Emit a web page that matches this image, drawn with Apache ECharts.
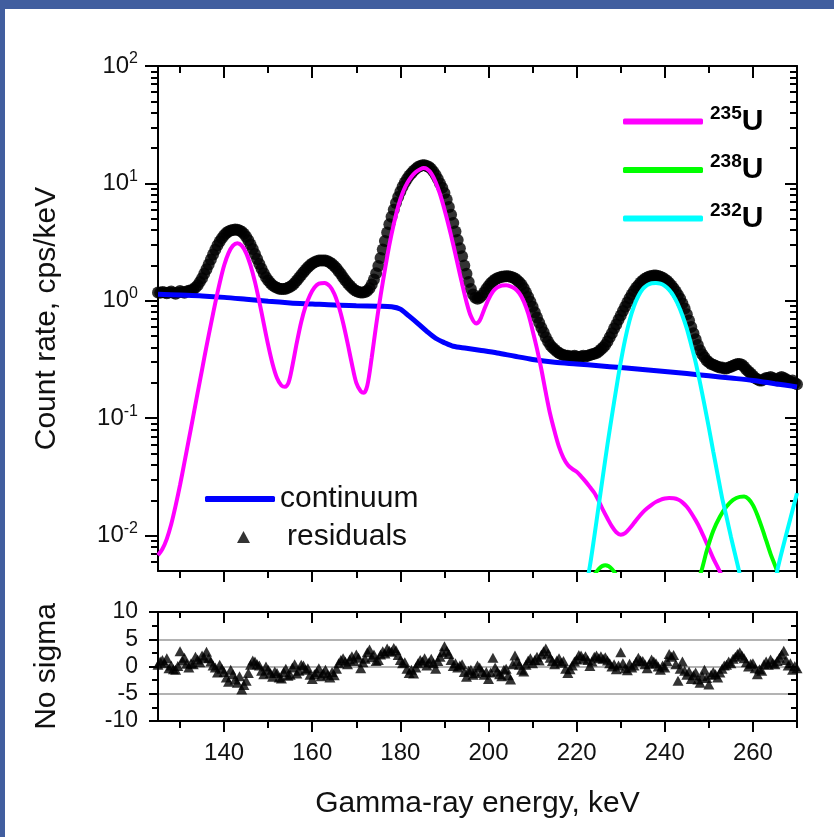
<!DOCTYPE html>
<html>
<head>
<meta charset="utf-8">
<script src="https://cdn.jsdelivr.net/npm/echarts@6/dist/echarts.min.js"></script>
<style>
  html, body { margin: 0; padding: 0; background: #fff; overflow: hidden; }
  #chart { width: 834px; height: 837px; }
</style>
</head>
<body>
<div id="chart"></div>
<script>
// Measured spectrum, 0.5 keV channels starting at 125 keV (cps/keV)
const spectrumStart = 125;
const spectrumStep = 0.5;
const measured = [
  1.18,1.17,1.19,1.18,1.16,1.18,1.20,1.17,1.15,1.18,
  1.21,1.19,1.17,1.20,1.22,1.23,1.25,1.30,1.36,1.45,
  1.56,1.70,1.86,2.04,2.25,2.48,2.72,2.97,3.20,3.42,
  3.62,3.78,3.90,3.98,4.02,4.05,4.03,3.98,3.88,3.72,
  3.52,3.28,3.02,2.76,2.50,2.27,2.06,1.88,1.72,1.59,
  1.49,1.42,1.36,1.32,1.29,1.27,1.26,1.26,1.27,1.29,
  1.32,1.36,1.42,1.49,1.57,1.66,1.75,1.84,1.93,2.01,
  2.08,2.13,2.17,2.20,2.21,2.21,2.20,2.17,2.12,2.06,
  1.98,1.89,1.79,1.69,1.59,1.50,1.42,1.35,1.29,1.24,
  1.21,1.19,1.18,1.18,1.19,1.22,1.28,1.38,1.52,1.72,
  1.98,2.32,2.74,3.24,3.82,4.48,5.20,5.98,6.80,7.65,
  8.50,9.35,10.2,10.9,11.6,12.2,12.8,13.3,13.8,14.1,
  14.3,14.3,14.1,13.8,13.3,12.6,11.8,10.9,10.0,9.2,
  8.3,7.3,6.3,5.4,4.6,3.9,3.3,2.8,2.4,2.0,
  1.70,1.45,1.26,1.13,1.06,1.04,1.06,1.11,1.18,1.26,
  1.34,1.41,1.47,1.52,1.56,1.58,1.60,1.61,1.62,1.62,
  1.60,1.58,1.55,1.50,1.44,1.37,1.28,1.18,1.08,0.98,
  0.89,0.80,0.72,0.65,0.59,0.54,0.49,0.45,0.42,0.40,
  0.385,0.37,0.36,0.35,0.345,0.34,0.34,0.335,0.335,0.34,
  0.335,0.33,0.335,0.34,0.335,0.34,0.345,0.35,0.355,0.36,
  0.37,0.385,0.40,0.42,0.45,0.49,0.53,0.58,0.63,0.69,
  0.75,0.82,0.89,0.97,1.05,1.13,1.21,1.29,1.36,1.43,
  1.49,1.54,1.58,1.61,1.63,1.64,1.64,1.63,1.60,1.57,
  1.53,1.48,1.42,1.35,1.28,1.20,1.12,1.04,0.95,0.86,
  0.77,0.68,0.60,0.53,0.47,0.42,0.38,0.35,0.33,0.31,
  0.30,0.29,0.285,0.28,0.275,0.27,0.27,0.265,0.265,0.27,
  0.275,0.28,0.285,0.29,0.29,0.285,0.275,0.26,0.25,0.24,
  0.23,0.22,0.215,0.21,0.21,0.215,0.22,0.22,0.225,0.22,
  0.215,0.21,0.22,0.225,0.22,0.215,0.21,0.205,0.21,0.20,
  0.195
];

// Continuum (energy keV, cps/keV)
const continuumE = [125,130,135,140,145,150,155,160,165,170,175,178,180,182,184,186,188,190,192,195,198,202,206,210,215,220,225,230,235,240,245,250,255,260,265,270];
const continuumV = [1.14,1.12,1.10,1.07,1.03,0.99,0.96,0.94,0.92,0.91,0.90,0.89,0.85,0.74,0.64,0.55,0.48,0.44,0.41,0.395,0.38,0.36,0.337,0.317,0.30,0.29,0.28,0.27,0.26,0.25,0.24,0.23,0.22,0.21,0.197,0.185];

// 235U fitted response
const u235E = [125,126,127,128,129,130,131,132,133,134,135,136,137,138,139,140,141,142,143,144,145,146,147,148,149,150,151,152,153,153.8,154.6,155.5,156.5,157.5,158.5,159.5,160.5,161.5,162.8,164,165,166,167,168,169,170,171,171.7,172.5,173.5,174.5,175.5,176.5,177.5,178.5,179.5,180.5,181.5,182.5,183.5,184.5,185.3,186,187,188,189,190,191,192,193,194,195,196,197.2,198,199,200,201,202,203,204,205,206,207,208,209,210,211,212,213,214,215,216,217,218,219,220,221,222,223,224,225,226,227,228,229,230,231,232,233,234,235,236,237,238,239,240,241,242,243,244,245,246,247,248,249,250,251,252,253,254];
const u235V = [0.0068,0.0077,0.0094,0.0125,0.018,0.027,0.042,0.066,0.104,0.165,0.26,0.41,0.63,0.96,1.42,2.0,2.55,2.95,3.1,2.95,2.55,2.0,1.45,0.98,0.64,0.42,0.29,0.22,0.19,0.185,0.2,0.28,0.44,0.66,0.9,1.12,1.3,1.4,1.42,1.33,1.15,0.9,0.65,0.44,0.29,0.2,0.17,0.165,0.19,0.33,0.62,1.1,1.85,3.0,4.5,6.4,8.3,10.0,11.4,12.5,13.2,13.5,13.3,12.2,10.3,8.1,6.0,4.3,3.0,2.05,1.4,0.98,0.74,0.64,0.68,0.84,1.03,1.2,1.3,1.35,1.36,1.33,1.27,1.16,0.99,0.78,0.56,0.39,0.26,0.165,0.108,0.077,0.057,0.046,0.04,0.037,0.035,0.032,0.029,0.026,0.0232,0.0198,0.0165,0.014,0.012,0.0107,0.0102,0.0105,0.0115,0.0128,0.0143,0.0158,0.0171,0.0183,0.0194,0.0202,0.0207,0.0209,0.0208,0.0203,0.0192,0.0176,0.0156,0.0135,0.0115,0.0095,0.0078,0.0064,0.0054,0.0045,0.0037];

// 238U fitted response
const u238E = [222,223.5,225,226.5,228,229.5,231,245,247,248.3,249.5,251,252.5,254,255.5,257,258,259,260,261,262,263,264,265.3,266.5,268];
const u238V = [0.0025,0.0042,0.0052,0.0056,0.0052,0.0042,0.0025,0.0025,0.0038,0.005,0.0074,0.011,0.0145,0.0177,0.0202,0.0214,0.0215,0.0205,0.0182,0.015,0.0118,0.0091,0.007,0.0052,0.0036,0.0022];

// 232U fitted response
const u232E = [221,222,223,224,225,226,227,228,229,230,231,232,233,234,235,236,237,238,239,240,241,242,243,244,245,246,247,248,249,250,251,252,253,254,255,256,257,258,262,264,265.5,267,268.5,270];
const u232V = [0.0022,0.0035,0.0055,0.0098,0.018,0.033,0.06,0.105,0.18,0.3,0.47,0.68,0.9,1.1,1.26,1.36,1.41,1.42,1.4,1.34,1.24,1.1,0.93,0.75,0.58,0.42,0.3,0.2,0.13,0.083,0.052,0.033,0.021,0.0145,0.0098,0.0068,0.0047,0.003,0.001,0.0025,0.005,0.0085,0.014,0.023];

// Fit residuals in standard deviations, 0.5 keV steps from 125 keV
const residualStart = 125;
const residualStep = 0.5;
const residuals = [
  0.3,0.9,1.2,0.6,1.5,-0.3,0.2,-0.5,-0.6,0.1,
  2.8,1.1,1.6,0.5,-0.2,0.6,0.4,1.8,1.3,0.8,
  2.0,1.6,2.7,1.5,0.9,0.2,-0.2,-1.1,0.3,-0.4,
  -1.0,-2.0,-2.8,-0.6,-1.4,-2.4,-3.0,-1.8,-4.2,-3.4,
  -2.6,-1.2,0.3,1.1,0.9,0.4,0.2,-0.8,-1.4,0.0,
  -0.6,-1.2,-1.9,-0.9,-1.2,-2.0,-2.2,-1.0,-0.4,-1.7,
  -1.5,-0.2,0.4,-1.3,-0.8,0.3,0.2,-0.6,-0.3,-1.5,
  -2.3,-1.4,-1.0,-0.3,-1.8,-1.2,-0.6,-1.5,-2.0,-1.0,
  -1.6,-0.4,0.6,1.2,1.5,0.9,0.4,1.3,1.9,1.0,
  2.2,1.6,-0.3,0.8,1.4,2.6,3.1,1.7,2.2,1.0,
  1.2,2.2,2.8,2.4,3.3,2.9,2.7,3.4,3.0,2.1,
  1.2,0.6,0.8,-0.4,-1.2,-0.6,-1.3,-0.2,0.6,1.2,
  0.9,1.5,0.2,0.8,1.4,0.6,-0.4,1.0,1.8,2.6,
  3.7,2.9,2.3,1.2,0.1,0.6,-0.2,0.2,0.4,-1.0,
  -1.9,-0.8,-0.6,-1.5,-1.2,0.2,-0.2,-0.9,-1.5,-1.0,
  -2.3,-1.1,1.6,-0.2,-0.9,-1.4,-1.8,-0.6,-0.4,-1.6,
  -2.4,0.4,2.0,1.0,0.3,-0.6,-0.9,0.3,1.1,1.5,
  0.6,1.2,1.8,1.1,2.2,2.8,3.3,2.4,1.6,1.0,
  0.4,1.1,1.5,0.7,1.0,-0.4,-1.2,-0.5,0.2,0.9,
  1.3,2.1,2.0,1.4,1.9,1.2,0.1,0.9,1.8,2.0,
  1.5,1.9,1.4,1.7,1.1,0.6,0.0,0.4,-0.5,0.2,
  2.6,0.6,-0.3,-0.7,0.5,-0.2,0.2,0.9,1.6,1.1,
  1.0,0.4,-0.3,0.5,1.3,0.9,0.6,0.0,-0.6,0.2,
  -0.2,1.0,2.3,1.8,2.1,0.4,-2.6,-0.4,0.9,-0.8,
  -1.5,-0.9,-2.3,-1.6,-1.1,-2.4,-3.0,-1.8,-0.6,-2.1,
  -3.3,-1.5,-1.0,-1.4,-2.0,-1.1,-0.4,0.2,0.3,0.9,
  0.6,1.4,1.8,2.3,2.6,2.0,1.5,0.8,0.0,0.5,
  0.6,-0.3,-1.4,-0.5,-0.8,0.4,0.9,0.3,1.3,0.7,
  0.4,1.0,1.6,2.2,2.9,1.2,0.2,0.6,-0.6,0.1,
  -0.3
];

// Axis ticks
const energyMajor = [140,160,180,200,220,240,260];
const energyMinor = [130,150,170,190,210,230,250,270];
const rateDecades = [0.01,0.1,1,10,100];
const rateMinor = [0.006,0.007,0.008,0.009,0.02,0.03,0.04,0.05,0.06,0.07,0.08,0.09,
  0.2,0.3,0.4,0.5,0.6,0.7,0.8,0.9,2,3,4,5,6,7,8,9,20,30,40,50,60,70,80,90];

const isotopeMass = { 'U-235': '235', 'U-238': '238', 'U-232': '232' };

const FONT = 'Liberation Sans, Arial, sans-serif';
const INK = '#111';
const TITLE_SIZE = 30;

const pairs = (xs, ys) => xs.map((x, i) => [x, ys[i]]);
const measuredData = measured.map((v, i) => [spectrumStart + spectrumStep * i, v]);
const residualData = residuals.map((v, i) => [residualStart + residualStep * i, v]);

const frameLine = { show: true, onZero: false, lineStyle: { color: '#000', width: 2 } };
const noLine = { show: false, onZero: false };

// tick-only energy axis; the major-tick copy also draws the frame edge
function energyAxis(grid, position, values, len, inside, extra) {
  return Object.assign({
    type: 'value', gridIndex: grid, position: position, min: 125, max: 270,
    axisLine: values === energyMajor ? frameLine : noLine,
    axisTick: { show: true, customValues: values, length: len, inside: inside, lineStyle: { color: '#000', width: 2 } },
    axisLabel: { show: false },
    splitLine: { show: false }
  }, extra || {});
}

function rateAxis(position, values, len, inside, extra) {
  return Object.assign({
    type: 'log', logBase: 10, gridIndex: 0, position: position, min: 0.005, max: 100,
    axisLine: values === rateDecades ? frameLine : noLine,
    axisTick: { show: true, customValues: values, length: len, inside: inside, lineStyle: { color: '#000', width: 2 } },
    axisLabel: { show: false },
    splitLine: { show: false }, minorTick: { show: false }
  }, extra || {});
}

function sigmaAxis(position, inside, extra) {
  return Object.assign({
    type: 'value', gridIndex: 1, position: position, min: -10, max: 10, interval: 5,
    axisLine: frameLine,
    axisTick: { show: true, length: 9, inside: inside, lineStyle: { color: '#000', width: 2 } },
    minorTick: { show: true, splitNumber: 2, length: 6, lineStyle: { color: '#000', width: 2 } },
    axisLabel: { show: false },
    splitLine: { show: false }
  }, extra || {});
}

const chart = echarts.init(document.getElementById('chart'), null, { renderer: 'canvas' });

chart.setOption({
  animation: false,
  backgroundColor: '#fff',
  textStyle: { fontFamily: FONT },
  grid: [
    { left: 158, top: 66, width: 639, height: 505 },
    { left: 158, top: 612, width: 639, height: 109 }
  ],
  xAxis: [
    energyAxis(0, 'bottom', energyMajor, 11, false),
    energyAxis(0, 'bottom', energyMinor, 7, false),
    energyAxis(0, 'top', energyMajor, 12, true),
    energyAxis(0, 'top', energyMinor, 7, true),
    energyAxis(1, 'bottom', energyMajor, 11, false, {
      axisLabel: { show: true, customValues: energyMajor, fontSize: 24, color: INK, margin: 20, fontFamily: FONT },
      name: 'Gamma-ray energy, keV', nameLocation: 'middle', nameGap: 68,
      nameTextStyle: { fontSize: TITLE_SIZE, color: INK, fontFamily: FONT }
    }),
    energyAxis(1, 'bottom', energyMinor, 7, false),
    energyAxis(1, 'top', energyMajor, 11, true),
    energyAxis(1, 'top', energyMinor, 6, true)
  ],
  yAxis: [
    rateAxis('left', rateDecades, 13, false, {
      axisLabel: {
        show: true, customValues: rateDecades, margin: 20, color: INK, fontFamily: FONT,
        formatter: v => '{b|10}{e|' + Math.round(Math.log10(v)) + '}',
        rich: {
          b: { fontSize: 24, lineHeight: 30, color: INK, fontFamily: FONT },
          e: { fontSize: 16, lineHeight: 16, verticalAlign: 'top', color: INK, fontFamily: FONT }
        }
      },
      name: 'Count rate, cps/keV', nameLocation: 'middle', nameGap: 96,
      nameTextStyle: { fontSize: TITLE_SIZE, color: INK, fontFamily: FONT }
    }),
    rateAxis('left', rateMinor, 7, false),
    rateAxis('right', rateDecades, 12, true),
    rateAxis('right', rateMinor, 7, true),
    sigmaAxis('left', false, {
      axisLabel: { show: true, fontSize: 23, color: INK, margin: 20, fontFamily: FONT },
      splitLine: { show: true, lineStyle: { color: '#9a9a9a', width: 1.5 } },
      name: 'No sigma', nameLocation: 'middle', nameGap: 96,
      nameTextStyle: { fontSize: TITLE_SIZE, color: INK, fontFamily: FONT }
    }),
    sigmaAxis('right', true)
  ],
  legend: [
    {
      data: [{ name: 'U-235', icon: 'roundRect' }, { name: 'U-238', icon: 'roundRect' }, { name: 'U-232', icon: 'roundRect' }],
      orient: 'vertical', left: 623, top: 104, padding: 0, itemWidth: 80, itemHeight: 6, itemGap: 16,
      selectedMode: false,
      formatter: n => '{s|' + isotopeMass[n] + '}{u|U}',
      textStyle: {
        rich: {
          s: { fontSize: 19, fontWeight: 'bold', lineHeight: 19, verticalAlign: 'top', padding: [0, 0, 0, 2], color: '#000', fontFamily: FONT },
          u: { fontSize: 30, fontWeight: 'bold', lineHeight: 35, color: '#000', fontFamily: FONT }
        }
      }
    },
    {
      data: [{ name: 'continuum', icon: 'roundRect' }],
      left: 205, top: 484, padding: 0, itemWidth: 70, itemHeight: 6, selectedMode: false,
      textStyle: { fontSize: TITLE_SIZE, color: INK, fontFamily: FONT }
    },
    {
      data: [{ name: 'residuals', icon: 'triangle' }],
      left: 237, top: 522, padding: 0, itemWidth: 13, itemHeight: 12, selectedMode: false,
      textStyle: { fontSize: TITLE_SIZE, color: INK, fontFamily: FONT, padding: [0, 0, 0, 32] }
    }
  ],
  graphic: [
    { type: 'rect', left: 0, top: 0, shape: { width: 834, height: 9 }, style: { fill: '#415e9f' }, z: 100 },
    { type: 'rect', left: 0, top: 0, shape: { width: 5, height: 837 }, style: { fill: '#415e9f' }, z: 100 }
  ],
  series: [
    {
      name: 'Measured', type: 'scatter', xAxisIndex: 0, yAxisIndex: 0,
      data: measuredData, symbol: 'circle', symbolSize: 12,
      itemStyle: { color: '#000' }, z: 2
    },
    {
      name: 'continuum', type: 'line', xAxisIndex: 0, yAxisIndex: 0,
      data: pairs(continuumE, continuumV), showSymbol: false, smooth: 0.3,
      lineStyle: { color: '#0000ff', width: 5 }, itemStyle: { color: '#0000ff' }, z: 3
    },
    {
      name: 'U-235', type: 'line', xAxisIndex: 0, yAxisIndex: 0,
      data: pairs(u235E, u235V), showSymbol: false, smooth: 0.3, clip: true,
      lineStyle: { color: '#ff00ff', width: 4 }, itemStyle: { color: '#ff00ff' }, z: 4
    },
    {
      name: 'U-238', type: 'line', xAxisIndex: 0, yAxisIndex: 0,
      data: pairs(u238E, u238V), showSymbol: false, smooth: 0.3, clip: true,
      lineStyle: { color: '#00ff00', width: 4 }, itemStyle: { color: '#00ff00' }, z: 4
    },
    {
      name: 'U-232', type: 'line', xAxisIndex: 0, yAxisIndex: 0,
      data: pairs(u232E, u232V), showSymbol: false, smooth: 0.3, clip: true,
      lineStyle: { color: '#00ffff', width: 4 }, itemStyle: { color: '#00ffff' }, z: 5
    },
    {
      name: 'residuals', type: 'scatter', xAxisIndex: 4, yAxisIndex: 4,
      data: residualData, symbol: 'triangle', symbolSize: [11, 10],
      itemStyle: { color: '#000' }, z: 3
    }
  ]
});
</script>
</body>
</html>
